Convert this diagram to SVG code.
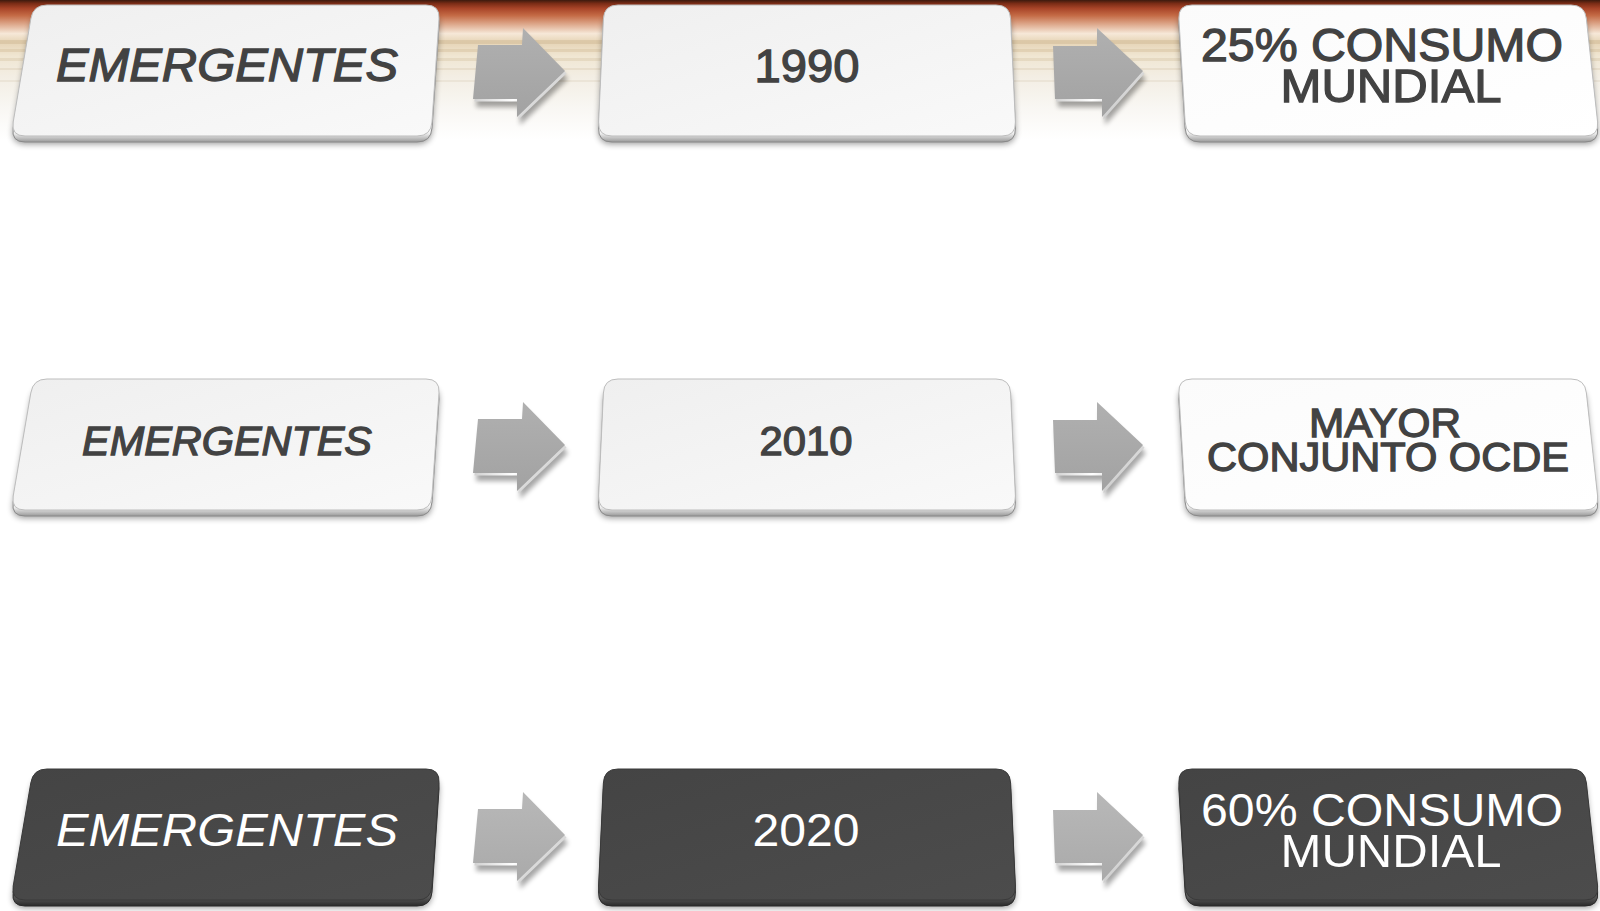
<svg xmlns="http://www.w3.org/2000/svg" xmlns:xlink="http://www.w3.org/1999/xlink" width="1600" height="911" viewBox="0 0 1600 911">
<style>
.shadow{fill:#000;opacity:.4;filter:url(#blur)}
.face-l{fill:url(#gFaceL);stroke:#bdbdbd;stroke-width:1}
.face-w{fill:url(#gFaceW);stroke:#bdbdbd;stroke-width:1}
.bevel-l{fill:url(#gBevelL);stroke:#8a8a8a;stroke-width:1}
.face-d{fill:url(#gFaceD);stroke:#3a3a3a;stroke-width:1}
.bevel-d{fill:url(#gBevelD);stroke:#2a2a2a;stroke-width:1}
.afront{fill:url(#gArrow)}
.afront3{fill:url(#gArrow3)}
.aback{fill:url(#gArrowBevel)}
.ashadow{fill:#000;opacity:.35;filter:url(#blur2)}
text{font-family:"Liberation Sans",Arial,sans-serif;text-anchor:middle}
.tl{fill:#424242;stroke:#424242;stroke-width:1.3;font-weight:normal}
.td{fill:#ffffff;font-weight:normal}
.it{font-style:italic}
.r1{font-size:47px}
.r2{font-size:41px}
</style>
<defs>
<filter id="blur" x="-10%" y="-30%" width="120%" height="160%"><feGaussianBlur stdDeviation="3"/></filter>
<filter id="blur2" x="-20%" y="-20%" width="140%" height="140%"><feGaussianBlur stdDeviation="2.5"/></filter>
<linearGradient id="gBg" x1="0" y1="0" x2="0" y2="1">
<stop offset="0" stop-color="#3c1a0e"/>
<stop offset="0.025" stop-color="#7a2c16"/>
<stop offset="0.06" stop-color="#a84428"/>
<stop offset="0.11" stop-color="#c46a45"/>
<stop offset="0.17" stop-color="#dca588"/>
<stop offset="0.24" stop-color="#f6e8d8"/>
<stop offset="0.30" stop-color="#e6d4b6"/>
<stop offset="0.40" stop-color="#f0e6d2"/>
<stop offset="0.55" stop-color="#f3eee4"/>
<stop offset="0.75" stop-color="#f8f6f2"/>
<stop offset="1" stop-color="#ffffff"/>
</linearGradient>
<linearGradient id="gFaceL" x1="0" y1="0" x2="1" y2="1">
<stop offset="0" stop-color="#efefef"/>
<stop offset="1" stop-color="#f9f9f9"/>
</linearGradient>
<linearGradient id="gFaceW" x1="0" y1="0" x2="1" y2="1">
<stop offset="0" stop-color="#fbfbfb"/>
<stop offset="1" stop-color="#ffffff"/>
</linearGradient>
<linearGradient id="gBevelL" x1="0" y1="0" x2="0" y2="1">
<stop offset="0.8" stop-color="#ffffff"/>
<stop offset="0.93" stop-color="#f4f4f4"/>
<stop offset="1" stop-color="#9a9a9a"/>
</linearGradient>
<linearGradient id="gFaceD" x1="0" y1="0" x2="1" y2="1">
<stop offset="0" stop-color="#444444"/>
<stop offset="1" stop-color="#4c4c4c"/>
</linearGradient>
<linearGradient id="gBevelD" x1="0" y1="0" x2="0" y2="1">
<stop offset="0.8" stop-color="#777777"/>
<stop offset="0.93" stop-color="#5a5a5a"/>
<stop offset="1" stop-color="#2a2a2a"/>
</linearGradient>
<linearGradient id="gArrow" x1="0" y1="0" x2="0" y2="1">
<stop offset="0" stop-color="#b0b0b0"/>
<stop offset="1" stop-color="#a2a2a2"/>
</linearGradient>
<linearGradient id="gArrow3" x1="0" y1="0" x2="0" y2="1">
<stop offset="0" stop-color="#b8b8b8"/>
<stop offset="1" stop-color="#aaaaaa"/>
</linearGradient>
<linearGradient id="gArrowBevel" x1="0" y1="0" x2="1" y2="1">
<stop offset="0" stop-color="#7a7a7a"/>
<stop offset="0.6" stop-color="#ffffff"/>
<stop offset="1" stop-color="#8a8a8a"/>
</linearGradient>
<path id="c1" d="M47,0 L426,0 Q440,0 439,14 L432,117 Q431,131 417,131 L25,131 Q11,131 13.2,117 L30.8,14 Q33,0 47,0 Z"/>
<path id="c2" d="M618,0 L996,0 Q1010,0 1010.6,14 L1015.4,117 Q1016,131 1002,131 L612,131 Q598,131 598.6,117 L603.4,14 Q604,0 618,0 Z"/>
<path id="c3" d="M1192,0 L1571,0 Q1585,0 1586.4,14 L1597.6,117 Q1599,131 1585,131 L1200,131 Q1186,131 1185.1,117 L1178.9,14 Q1178,0 1192,0 Z"/>
<path id="a1" d="M478,45 L522,45 L523,28 L565,71 L517,117 L517,99 L473,99 Z"/>
<path id="a2" d="M1053,46 L1097,46 L1097,28 L1143,71 L1102,117 L1102,99 L1055,99 Z"/>
</defs>

<rect width="1600" height="911" fill="#ffffff"/>
<rect width="1600" height="140" fill="url(#gBg)"/>
<g opacity="0.5">
<rect x="0" y="40" width="1600" height="4" fill="#d2bc98"/>
<rect x="0" y="49" width="1600" height="3" fill="#d8c4a2"/>
<rect x="0" y="58" width="1600" height="3" fill="#dccdb0"/>
<rect x="0" y="68" width="1600" height="2" fill="#e0d3bc"/>
<rect x="0" y="80" width="1600" height="2" fill="#e4dbca"/>
</g>

<g id="connectors">
<use href="#a1" class="ashadow" x="3" y="8"/>
<use href="#a1" class="aback" x="1.5" y="2.5"/>
<use href="#a1" class="afront"/>
<use href="#a2" class="ashadow" x="3" y="8"/>
<use href="#a2" class="aback" x="1.5" y="2.5"/>
<use href="#a2" class="afront"/>
<use href="#a1" class="ashadow" x="3" y="382"/>
<use href="#a1" class="aback" x="1.5" y="376.5"/>
<use href="#a1" class="afront" y="374"/>
<use href="#a2" class="ashadow" x="3" y="382"/>
<use href="#a2" class="aback" x="1.5" y="376.5"/>
<use href="#a2" class="afront" y="374"/>
<use href="#a1" class="ashadow" x="3" y="772"/>
<use href="#a1" class="aback" x="1.5" y="766.5"/>
<use href="#a1" class="afront3" y="764"/>
<use href="#a2" class="ashadow" x="3" y="772"/>
<use href="#a2" class="aback" x="1.5" y="766.5"/>
<use href="#a2" class="afront3" y="764"/>
</g>

<g id="n-r1c1">
<use href="#c1" class="shadow" y="13"/>
<use href="#c1" class="bevel-l" y="11"/>
<use href="#c1" class="face-l" y="5"/>
<text class="tl it r1" x="227" y="81" textLength="342" lengthAdjust="spacingAndGlyphs">EMERGENTES</text>
</g>
<g id="n-r1c2">
<use href="#c2" class="shadow" y="13"/>
<use href="#c2" class="bevel-l" y="11"/>
<use href="#c2" class="face-l" y="5"/>
<text class="tl r1" x="807" y="82" textLength="105" lengthAdjust="spacingAndGlyphs">1990</text>
</g>
<g id="n-r1c3">
<use href="#c3" class="shadow" y="13"/>
<use href="#c3" class="bevel-l" y="11"/>
<use href="#c3" class="face-w" y="5"/>
<text class="tl r1" x="1382" y="61" textLength="362" lengthAdjust="spacingAndGlyphs">25% CONSUMO</text>
<text class="tl r1" x="1391" y="102" textLength="221" lengthAdjust="spacingAndGlyphs">MUNDIAL</text>
</g>

<g id="n-r2c1">
<use href="#c1" class="shadow" y="387"/>
<use href="#c1" class="bevel-l" y="385"/>
<use href="#c1" class="face-l" y="379"/>
<text class="tl it r2" x="227" y="455" textLength="290" lengthAdjust="spacingAndGlyphs">EMERGENTES</text>
</g>
<g id="n-r2c2">
<use href="#c2" class="shadow" y="387"/>
<use href="#c2" class="bevel-l" y="385"/>
<use href="#c2" class="face-l" y="379"/>
<text class="tl r2" x="806" y="455" textLength="93" lengthAdjust="spacingAndGlyphs">2010</text>
</g>
<g id="n-r2c3">
<use href="#c3" class="shadow" y="387"/>
<use href="#c3" class="bevel-l" y="385"/>
<use href="#c3" class="face-w" y="379"/>
<text class="tl r2" x="1385" y="437" textLength="152" lengthAdjust="spacingAndGlyphs">MAYOR</text>
<text class="tl r2" x="1388" y="471" textLength="362" lengthAdjust="spacingAndGlyphs">CONJUNTO OCDE</text>
</g>

<g id="n-r3c1">
<use href="#c1" class="shadow" y="777"/>
<use href="#c1" class="bevel-d" y="775"/>
<use href="#c1" class="face-d" y="769"/>
<text class="td it r1" x="227" y="846" textLength="342" lengthAdjust="spacingAndGlyphs">EMERGENTES</text>
</g>
<g id="n-r3c2">
<use href="#c2" class="shadow" y="777"/>
<use href="#c2" class="bevel-d" y="775"/>
<use href="#c2" class="face-d" y="769"/>
<text class="td r1" x="806" y="846" textLength="107" lengthAdjust="spacingAndGlyphs">2020</text>
</g>
<g id="n-r3c3">
<use href="#c3" class="shadow" y="777"/>
<use href="#c3" class="bevel-d" y="775"/>
<use href="#c3" class="face-d" y="769"/>
<text class="td r1" x="1382" y="826" textLength="362" lengthAdjust="spacingAndGlyphs">60% CONSUMO</text>
<text class="td r1" x="1391" y="867" textLength="221" lengthAdjust="spacingAndGlyphs">MUNDIAL</text>
</g>
</svg>
